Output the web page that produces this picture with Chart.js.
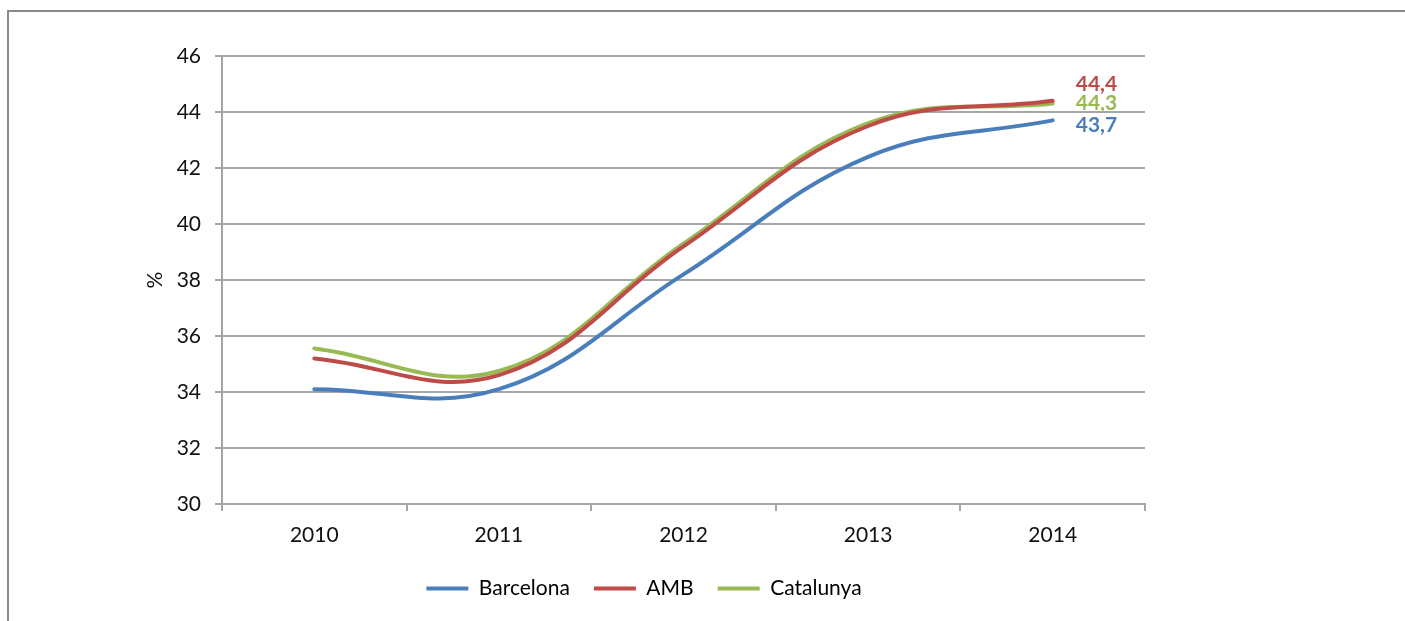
<!DOCTYPE html>
<html>
<head>
<meta charset="utf-8">
<script src="https://cdn.jsdelivr.net/npm/chart.js@4"></script>
<style>
  html, body { margin: 0; padding: 0; background: #fff; overflow: hidden; }
  #wrap { position: relative; width: 1405px; height: 621px; overflow: hidden; }
  #frame { position: absolute; left: 7px; top: 10px; width: 1410px; height: 620px;
           border-top: 2px solid #8a8a8a; border-left: 2px solid #8a8a8a; }
  canvas { position: absolute; left: 0; top: 0; }
</style>
</head>
<body>
<div id="wrap">
  <div id="frame"></div>
  <canvas id="grafico" width="1405" height="621"></canvas>
</div>
<script>
// Dades
const anys = ["2010", "2011", "2012", "2013", "2014"];
const barcelona = [34.1, 34.1, 38.2, 42.4, 43.7];
const amb = [35.2, 34.6, 39.2, 43.5, 44.4];
const catalunya = [35.55, 34.75, 39.3, 43.6, 44.3];
const yTicks = [30, 32, 34, 36, 38, 40, 42, 44, 46];

const FONT = "Lato";
const GRID = "#a6a6a6";
const TEXT = "#111";

// etiquetes al final de cada línia
const offsetsY = [5, -17, 0];
const etiquetesFinals = {
  id: "etiquetesFinals",
  afterDatasetsDraw(chart) {
    const ctx = chart.ctx;
    ctx.save();
    ctx.font = "bold 21px " + FONT;
    ctx.textAlign = "left";
    ctx.textBaseline = "middle";
    chart.data.datasets.forEach((ds, i) => {
      const meta = chart.getDatasetMeta(i);
      const last = meta.data[meta.data.length - 1];
      const v = ds.data[ds.data.length - 1];
      ctx.fillStyle = ds.borderColor;
      ctx.fillText(v.toFixed(1).replace(".", ","), last.x + 23, last.y + offsetsY[i]);
    });
    ctx.restore();
  }
};

new Chart(document.getElementById("grafico"), {
  type: "line",
  data: {
    labels: anys,
    datasets: [
      { label: "Barcelona", data: barcelona, borderColor: "#4a7ebb" },
      { label: "AMB", data: amb, borderColor: "#be4b48" },
      { label: "Catalunya", data: catalunya, borderColor: "#98b954" }
    ].map(d => Object.assign(d, {
      backgroundColor: d.borderColor,
      borderWidth: 4,
      borderCapStyle: "round",
      tension: 0.4,
      pointRadius: 0,
      fill: false
    }))
  },
  options: {
    responsive: false,
    animation: false,
    layout: { padding: { left: 143, right: 260, top: 56, bottom: 12 } },
    plugins: {
      tooltip: { enabled: false },
      legend: {
        position: "bottom",
        labels: {
          font: { family: FONT, size: 21 },
          color: TEXT,
          boxWidth: 42,
          boxHeight: 4,
          padding: 24,
          generateLabels(chart) {
            return chart.data.datasets.map((ds, i) => ({
              text: ds.label,
              fillStyle: ds.borderColor,
              strokeStyle: ds.borderColor,
              lineWidth: 0,
              datasetIndex: i
            }));
          }
        }
      }
    },
    scales: {
      x: {
        offset: true,
        grid: { offset: true, drawOnChartArea: false, drawTicks: true, tickLength: 7, color: GRID, lineWidth: 2 },
        border: { color: GRID, width: 2 },
        ticks: { font: { family: FONT, size: 21 }, color: TEXT, padding: 12 },
        afterFit(s) { s.height = 50; }
      },
      y: {
        min: 30,
        max: 46,
        afterBuildTicks(s) { s.ticks = yTicks.map(v => ({ value: v })); },
        grid: { color: GRID, lineWidth: 2, tickLength: 7 },
        border: { color: GRID, width: 2 },
        ticks: { font: { family: FONT, size: 21 }, color: TEXT, padding: 14 },
        title: { display: true, text: "%", font: { family: FONT, size: 21 }, color: TEXT, padding: 0 },
        afterFit(s) { s.width = 79; }
      }
    }
  },
  plugins: [etiquetesFinals]
});
</script>
</body>
</html>
